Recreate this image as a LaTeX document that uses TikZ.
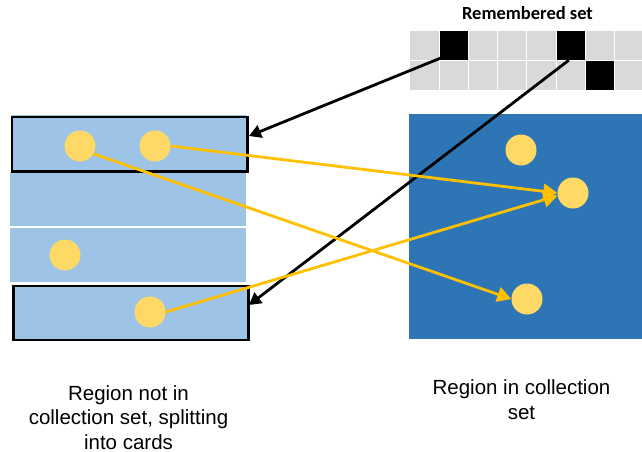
\documentclass[tikz,border=0pt]{standalone}
\usepackage{fontspec}
\setmainfont{Liberation Sans}
\newfontfamily\titlefont{Carlito}
\usetikzlibrary{arrows.meta,calc}

\definecolor{cardblue}{HTML}{9DC3E6}
\definecolor{regionblue}{HTML}{2E75B6}
\definecolor{dotyellow}{HTML}{FFD966}
\definecolor{arrowyellow}{HTML}{FFC000}
\definecolor{cellgray}{HTML}{D9D9D9}

\tikzset{
  card/.style={fill=cardblue, inner sep=0pt, anchor=north west},
  cardframe/.style={draw=black, line width=2.8pt, inner sep=0pt, anchor=north west},
  region/.style={fill=regionblue, inner sep=0pt, anchor=north west},
  obj/.style={circle, fill=dotyellow, minimum size=31pt, inner sep=0pt},
  rcell/.style={fill=cellgray, inner sep=0pt, minimum width=28.3pt, minimum height=28.8pt, anchor=north west},
  markcell/.style={rcell, fill=black},
  refarrow/.style={draw=black, line width=2.8pt, -{Triangle[length=12pt,width=13pt]}},
  ptrarrow/.style={draw=arrowyellow, line width=2.8pt, -{Triangle[length=14pt,width=15pt]}},
  caption/.style={font=\fontsize{20.5}{24.5}\selectfont, align=center, anchor=base, inner sep=0pt},
}

\begin{document}
\begin{tikzpicture}[x=1pt, y=-1pt]
  \useasboundingbox (0,0) rectangle (642,452);

  % cards of the region outside the collection set
  \node[card, minimum width=236pt, minimum height=54.5pt] (card2) at (10,171.5) {};
  \node[card, minimum width=236pt, minimum height=54.5pt] (card3) at (10,227.3) {};
  \node[card, minimum width=236pt, minimum height=57pt] (card1) at (10.5,114.5) {};
  \node[card, minimum width=235pt, minimum height=55pt] (card4) at (12,284.5) {};
  \node[cardframe, minimum width=235.8pt, minimum height=54.8pt] (frame1) at (10.5,115.5) {};
  \node[cardframe, minimum width=235pt, minimum height=54pt] (frame4) at (12,284.5) {};

  % objects in the cards
  \node[obj] (objA) at (80,146) {};
  \node[obj] (objB) at (155,146) {};
  \node[obj] (objC) at (65,255) {};
  \node[obj] (objD) at (150,312) {};

  % region in the collection set
  \node[region, minimum width=233pt, minimum height=225pt] (cset) at (409,114) {};
  \node[obj] (objR1) at (521,150) {};
  \node[obj] (objR2) at (573,193) {};
  \node[obj] (objR3) at (527,299) {};

  % remembered set
  \node[font=\titlefont\bfseries\fontsize{18.5}{22}\selectfont, anchor=base, inner sep=0pt] (rstitle) at (527.5,20) {Remembered set};
  \foreach \r in {1,2} {
    \foreach \c in {1,...,8} {
      \node[rcell] (cell-\r-\c) at ({410+29.3*(\c-1)},{31+30*(\r-1)}) {};
    }
  }
  \node[markcell] (mark1) at (cell-1-2.north west) {};
  \node[markcell] (mark2) at (cell-1-6.north west) {};
  \node[markcell] (mark3) at (cell-2-7.north west) {};

  % references recorded in the remembered set
  \coordinate (in1) at (249,136);
  \coordinate (in4) at (249,305);
  \draw[refarrow] ($(mark1.south west)+(1,-2)$) -- (in1);
  \draw[refarrow] ($(mark2.south)+(-2,0)$) -- (in4);

  % pointers into the collection set
  \draw[ptrarrow] (objB.east) -- (objR2.west);
  \draw[ptrarrow] (objA.-30) -- (objR3.west);
  \draw[ptrarrow] (objD.east) -- (objR2.190);

  % captions (anchored at the baseline of their last line)
  \node[caption] (capL) at (128.5,449) {Region not in\\collection set, splitting\\into cards};
  \node[caption] (capR) at (521.5,419) {Region in collection\\set};
\end{tikzpicture}
\end{document}
